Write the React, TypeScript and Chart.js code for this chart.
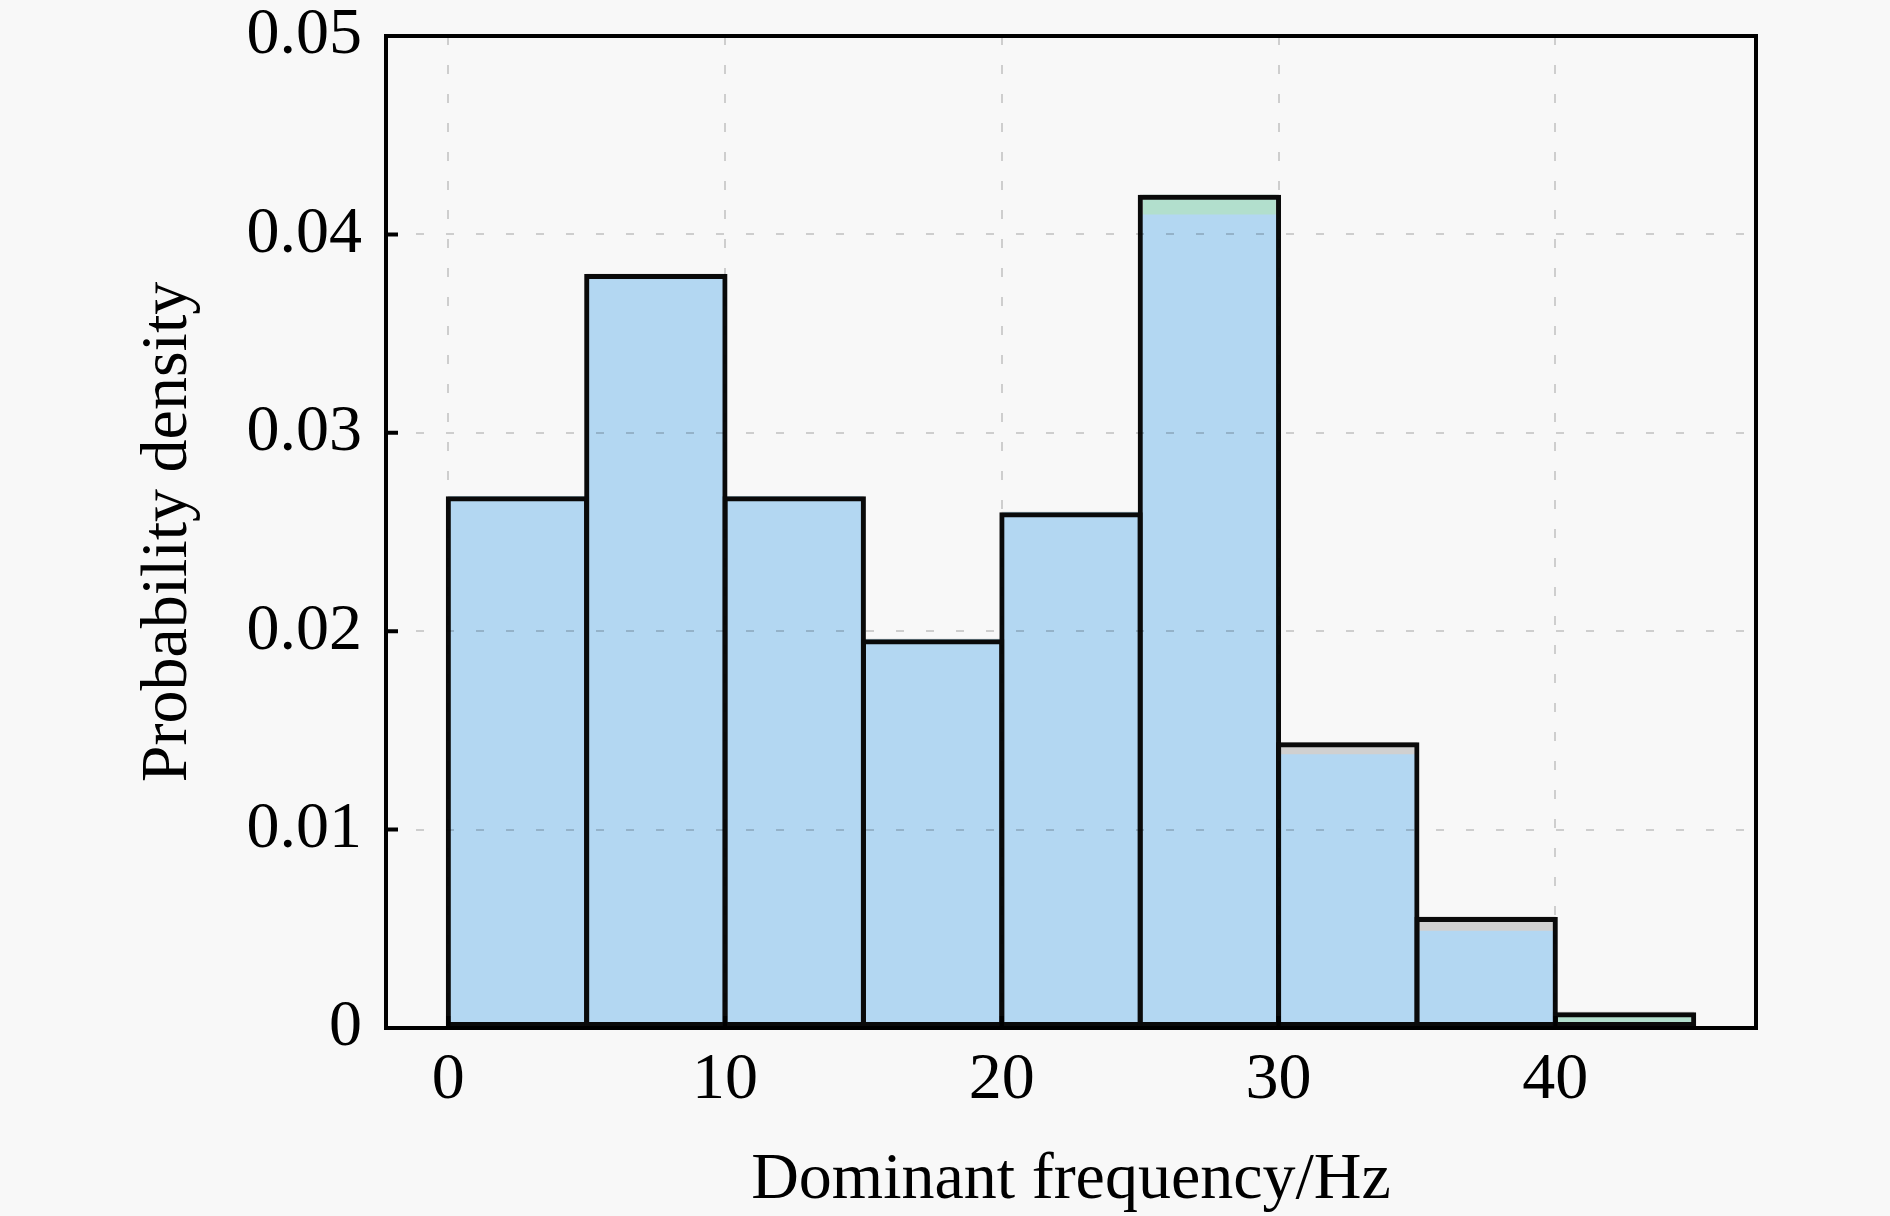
import { useEffect, useRef } from 'react';
import { Chart, registerables } from 'chart.js';

Chart.register(...registerables);

// histogram bins (Hz) and densities
const binEdges = [0, 5, 10, 15, 20, 25, 30, 35, 40, 45];
const outlineDensity = [0.0268, 0.038, 0.0268, 0.0196, 0.026, 0.042, 0.0144, 0.0056, 0.0008];
const greenDensity = [0.0268, 0.038, 0.0268, 0.0196, 0.026, 0.042, null, null, 0.0007];
const blueDensity = [0.0268, 0.038, 0.0268, 0.0196, 0.026, 0.041, 0.0138, 0.0049, null];

const xTicks = [0, 10, 20, 30, 40];
const yTicks = [0, 0.01, 0.02, 0.03, 0.04, 0.05];

const FONT = '"Liberation Serif", "Times New Roman", Times, serif';

function toPoints(values: (number | null)[]) {
  return values.map((v, i) => ({ x: (binEdges[i] + binEdges[i + 1]) / 2, y: v }));
}

const frame = {
  id: 'frame',
  afterDraw(chart: any) {
    const { ctx, chartArea, scales } = chart;
    const { left, right, top, bottom } = chartArea;
    ctx.save();
    ctx.strokeStyle = '#000';
    ctx.lineWidth = 4;
    ctx.strokeRect(left, top, right - left, bottom - top);
    ctx.beginPath();
    yTicks.forEach((v) => {
      const y = scales.y.getPixelForValue(v);
      ctx.moveTo(left, y);
      ctx.lineTo(left + 12, y);
    });
    xTicks.forEach((v) => {
      const x = scales.x.getPixelForValue(v);
      ctx.moveTo(x, bottom);
      ctx.lineTo(x, bottom - 12);
    });
    ctx.stroke();
    ctx.restore();
  },
};

export default function App() {
  const canvasRef = useRef<HTMLCanvasElement>(null);

  useEffect(() => {
    if (!canvasRef.current) return;
    const gridStyle = {
      color: 'rgba(0, 0, 0, 0.17)',
      lineWidth: 2,
      drawTicks: false,
      offset: false,
      z: 1,
    };

    const chart = new Chart(canvasRef.current, {
      type: 'bar',
      data: {
        datasets: [
          {
            label: 'outline',
            data: toPoints(outlineDensity),
            backgroundColor: 'rgba(0,0,0,0)',
            borderColor: '#0a0a0a',
            borderWidth: 5,
            borderSkipped: false,
            grouped: false,
            barPercentage: 1.036,
            categoryPercentage: 1,
            order: 0,
          },
          {
            label: 'blue',
            data: toPoints(blueDensity),
            backgroundColor: '#b3d7f2',
            borderWidth: 0,
            grouped: false,
            barPercentage: 0.98,
            categoryPercentage: 1,
            order: 1,
          },
          {
            label: 'green',
            data: toPoints(greenDensity),
            backgroundColor: '#b2dfcd',
            borderWidth: 0,
            grouped: false,
            barPercentage: 0.96,
            categoryPercentage: 1,
            order: 2,
          },
          {
            label: 'gray',
            data: toPoints(outlineDensity),
            backgroundColor: '#d0d0d0',
            borderWidth: 0,
            grouped: false,
            barPercentage: 1,
            categoryPercentage: 1,
            order: 3,
          },
        ],
      },
      options: {
        animation: false,
        responsive: false,
        devicePixelRatio: 1,
        layout: { padding: { top: 36, right: 134, left: 0, bottom: 0 } },
        plugins: {
          legend: { display: false },
          tooltip: { enabled: false },
        },
        scales: {
          x: {
            type: 'linear',
            min: -2.25,
            max: 47.25,
            offset: false,
            grid: gridStyle,
            border: { display: false, dash: [9, 20] },
            afterBuildTicks: (scale: any) => {
              scale.ticks = xTicks.map((value) => ({ value }));
            },
            afterFit: (scale: any) => {
              scale.height = 188;
            },
            ticks: {
              color: '#000',
              padding: 20,
              maxRotation: 0,
              font: { family: FONT, size: 66, lineHeight: 1 },
              callback: (v: any) => String(v),
            },
            title: {
              display: true,
              text: 'Dominant frequency/Hz',
              color: '#000',
              font: { family: FONT, size: 66, lineHeight: 1 },
              padding: { top: 0, bottom: 2 },
            },
          },
          y: {
            min: 0,
            max: 0.05,
            grid: gridStyle,
            border: { display: false, dash: [8, 22] },
            afterBuildTicks: (scale: any) => {
              scale.ticks = yTicks.map((value) => ({ value }));
            },
            afterFit: (scale: any) => {
              scale.width = 386;
              scale.paddingTop = 0;
              scale.paddingBottom = 0;
            },
            ticks: {
              color: '#000',
              padding: 24,
              font: { family: FONT, size: 66, lineHeight: 1 },
              callback: (v: any) => (v === 0 ? '0' : Number(v).toFixed(2)),
            },
            title: {
              display: true,
              text: 'Probability density',
              color: '#000',
              font: { family: FONT, size: 66, lineHeight: 1 },
              padding: { top: 136, bottom: 0 },
            },
          },
        },
      },
      plugins: [frame],
    });

    return () => {
      chart.destroy();
    };
  }, []);

  return (
    <div
      style={{
        position: 'fixed',
        left: 0,
        top: 0,
        width: 1890,
        height: 1216,
        background: '#f8f8f8',
      }}
    >
      <canvas ref={canvasRef} width={1890} height={1216} style={{ width: 1890, height: 1216 }}></canvas>
    </div>
  );
}
